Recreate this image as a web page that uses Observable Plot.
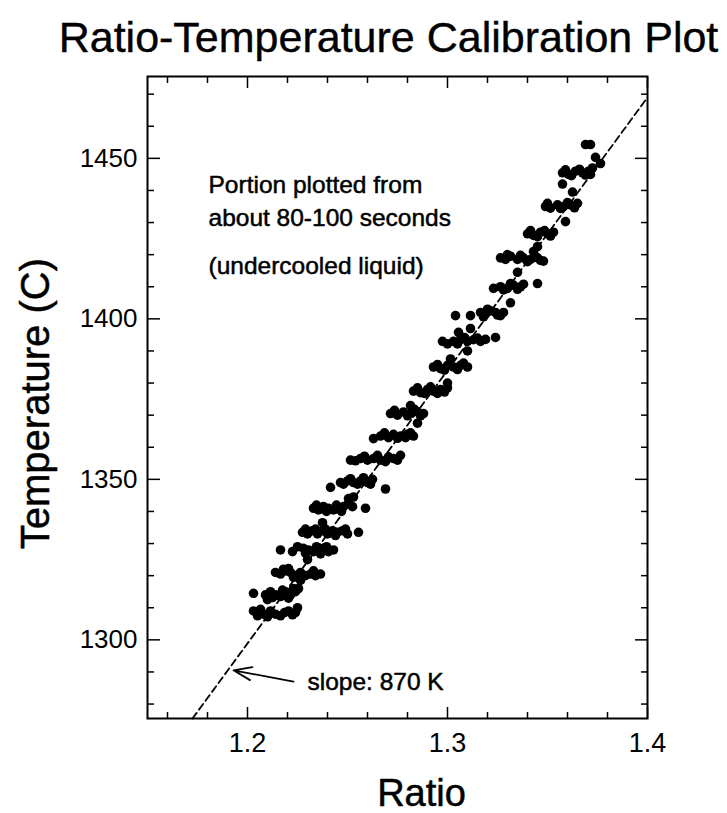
<!DOCTYPE html>
<html><head><meta charset="utf-8">
<script src="https://cdn.jsdelivr.net/npm/d3@7"></script>
<script src="https://cdn.jsdelivr.net/npm/@observablehq/plot@0.6"></script>
<style>
html,body{margin:0;padding:0;background:#fff;}
body{width:727px;height:813px;overflow:hidden;font-family:"Liberation Sans",Arial,Helvetica,sans-serif;}
#title{box-sizing:border-box;height:60px;padding:16px 0 0 50px;width:727px;text-align:center;font-size:43px;line-height:43px;color:#000;white-space:nowrap;-webkit-text-stroke:0.4px #000;}
</style></head><body>
<div id="title">Ratio-Temperature Calibration Plot</div>
<div id="chart"></div>
<script>
// Measured points (ratio, temperature °C)
const ratio = [
  1.2030,1.2050,1.2080,1.2115,1.2140,1.2165,1.2205,1.2240,1.2250,1.2030,1.2065,1.2185,1.2225,1.2100,
  1.2090,1.2115,1.2140,1.2165,1.2190,1.2215,1.2240,1.2255,1.2100,1.2125,1.2175,1.2205,1.2230,
  1.2140,1.2165,1.2190,1.2215,1.2240,1.2265,1.2315,1.2340,1.2365,1.2265,1.2180,1.2230,1.2290,1.2330,1.2205,
  1.2165,1.2225,1.2280,1.2305,1.2330,1.2355,1.2380,1.2405,1.2430,1.2300,1.2250,1.2290,1.2345,1.2395,1.2365,
  1.2275,1.2300,1.2325,1.2350,1.2375,1.2400,1.2425,1.2450,1.2475,1.2500,1.2555,1.2375,1.2290,1.2340,1.2390,1.2440,1.2490,
  1.2330,1.2355,1.2380,1.2405,1.2430,1.2455,1.2480,1.2505,1.2590,1.2505,1.2345,1.2395,1.2445,1.2470,1.2525,
  1.2415,1.2465,1.2500,1.2530,1.2565,1.2600,1.2625,1.2690,1.2530,1.2480,1.2515,1.2550,1.2580,1.2615,
  1.2515,1.2565,1.2600,1.2630,1.2665,1.2705,1.2730,1.2765,1.2585,1.2650,1.2690,1.2750,1.2540,
  1.2630,1.2665,1.2705,1.2730,1.2765,1.2800,1.2830,1.2685,1.2750,1.2790,1.2815,
  1.2715,1.2750,1.2780,1.2815,1.2850,1.2880,1.2815,1.2850,1.2735,1.2800,1.2835,1.2865,
  1.2830,1.2865,1.2900,1.2930,1.2965,1.3000,1.3000,1.2850,1.2885,1.2915,1.2950,1.2985,
  1.2930,1.2965,1.3000,1.3030,1.3065,1.3100,1.3015,1.3100,1.2950,1.2985,1.3050,1.3080,
  1.2975,1.3030,1.3065,1.3100,1.3130,1.3165,1.3240,1.3055,1.3115,1.3040,1.3115,1.3000,1.3050,1.3085,1.3150,1.3190,
  1.3165,1.3190,1.3215,1.3240,1.3265,1.3280,1.3315,1.3230,1.3200,1.3250,1.3180,
  1.3265,1.3300,1.3330,1.3365,1.3450,1.3280,1.3315,1.3350,1.3380,
  1.3265,1.3290,1.3315,1.3350,1.3380,1.3415,1.3450,1.3480,1.3350,1.3430,1.3450,1.3300,1.3365,1.3400,1.3435,1.3465,
  1.3400,1.3430,1.3465,1.3500,1.3530,1.3590,1.3415,1.3450,1.3485,1.3515,
  1.3490,1.3515,1.3550,1.3580,1.3615,1.3650,1.3625,1.3500,1.3565,1.3600,1.3635,
  1.3575,1.3605,1.3640,1.3675,1.3705,1.3725,1.3575,1.3765,1.3740,1.3590,1.3620,1.3660,1.3690,1.3715,
  1.3690,1.3715
];
const temperature = [
  1309.0,1307.5,1308.0,1309.0,1308.0,1307.5,1309.0,1308.5,1310.0,1314.5,1309.5,1308.5,1307.8,1307.2,
  1314.0,1315.0,1314.0,1313.5,1315.0,1314.0,1315.0,1316.0,1312.5,1313.2,1315.5,1313.0,1316.0,
  1321.0,1320.5,1321.5,1321.0,1320.0,1321.0,1320.5,1320.0,1320.5,1318.5,1322.0,1319.5,1320.0,1321.5,1322.2,
  1328.0,1327.5,1328.5,1328.0,1327.5,1328.0,1328.5,1327.5,1328.0,1325.0,1329.0,1327.0,1329.0,1329.0,1326.8,
  1333.5,1333.0,1334.0,1333.0,1334.0,1333.0,1334.0,1333.5,1334.0,1333.0,1333.5,1336.5,1334.5,1334.5,1334.5,1332.5,1334.5,
  1341.0,1340.5,1341.5,1341.0,1340.5,1341.0,1341.5,1342.5,1341.0,1344.0,1342.0,1340.0,1342.0,1340.0,1341.5,
  1347.5,1349.0,1349.5,1349.0,1349.5,1349.0,1350.0,1347.0,1344.5,1348.5,1350.2,1348.5,1350.5,1348.5,
  1356.0,1356.5,1356.0,1356.5,1356.0,1357.0,1356.5,1357.5,1357.2,1357.5,1355.5,1356.0,1355.8,
  1362.7,1363.5,1363.0,1364.0,1363.5,1364.0,1363.5,1364.5,1362.8,1363.0,1364.5,
  1370.5,1370.0,1371.0,1370.5,1371.0,1370.5,1373.0,1367.5,1371.5,1369.8,1371.8,1369.8,
  1377.5,1377.0,1378.0,1377.5,1378.0,1378.5,1380.0,1378.5,1376.8,1378.8,1376.8,1377.2,
  1385.0,1384.5,1385.5,1385.0,1385.5,1385.0,1387.5,1390.0,1385.8,1384.0,1384.2,1386.2,
  1393.0,1393.0,1393.5,1393.0,1393.5,1393.0,1394.2,1395.8,1397.0,1401.0,1401.0,1392.2,1392.2,1394.2,1394.0,1393.6,
  1402.0,1401.5,1402.5,1402.0,1401.0,1402.0,1405.0,1409.5,1403.0,1401.2,1400.6,
  1410.0,1409.5,1410.5,1410.0,1411.0,1409.0,1411.0,1409.2,1410.8,
  1419.0,1418.5,1419.5,1418.5,1419.0,1418.5,1419.0,1418.0,1414.5,1421.0,1422.5,1420.0,1419.8,1417.8,1419.8,1418.2,
  1426.5,1426.0,1427.0,1426.5,1427.0,1430.3,1427.5,1425.6,1427.5,1425.8,
  1435.0,1434.5,1435.5,1435.0,1435.5,1436.0,1439.5,1436.0,1434.4,1436.2,1434.6,
  1445.5,1445.0,1446.0,1445.5,1446.0,1447.0,1442.0,1448.4,1450.3,1446.4,1444.6,1446.6,1444.8,1445.0,
  1454.3,1454.3
];

// Fitted calibration line (dashed)
const fitRatio = [1.1725, 1.4];
const fitTemp = [1275.5, 1469.0];

// Axis ticks
const xMajorTicks = [1.2, 1.3, 1.4];
const xMinorTicks = [1.16, 1.18, 1.22, 1.24, 1.26, 1.28, 1.32, 1.34, 1.36, 1.38];
const yMajorTicks = [1300, 1350, 1400, 1450];
const yMinorTicks = [1280, 1290, 1310, 1320, 1330, 1340, 1360, 1370, 1380, 1390, 1410, 1420, 1430, 1440, 1460, 1470];

// Annotations
const noteLines = ["Portion plotted from", "about 80-100 seconds", "(undercooled liquid)"];
const noteRatio = [1.1805, 1.1805, 1.1805];
const noteTemp = [1441.5, 1431.3, 1416.3];
const slopeLabel = "slope: 870 K";
const slopeLabelPos = [1.2300, 1286.7];
const arrowFrom = [1.2230, 1287.0];
const arrowTo = [1.1930, 1290.5];

const points = ratio.map((r, i) => ({ratio: r, temperature: temperature[i]}));
const fit = fitRatio.map((r, i) => ({ratio: r, temperature: fitTemp[i]}));
const notes = noteLines.map((t, i) => ({text: t, ratio: noteRatio[i], temperature: noteTemp[i]}));

const font = "Liberation Sans, Arial, Helvetica, sans-serif";

const chart = Plot.plot({
  width: 727,
  height: 753,
  marginTop: 16,
  marginBottom: 95,
  marginLeft: 147,
  marginRight: 80,
  style: {fontFamily: font, background: "#fff", color: "#000"},
  x: {domain: [1.15, 1.4]},
  y: {domain: [1275.5, 1475.5]},
  marks: [
    // tick labels
    Plot.axisX({anchor: "bottom", ticks: xMajorTicks, tickSize: 0, tickPadding: 14, tickFormat: d3.format(".1f"), fontSize: 27, label: null, stroke: "#000", strokeWidth: 0.5}),
    Plot.axisY({anchor: "left", ticks: yMajorTicks, tickSize: 0, tickPadding: 10, tickFormat: d => String(d), fontSize: 26, label: null, stroke: "#000", strokeWidth: 0.5}),
    // inward tick marks
    Plot.axisX({anchor: "bottom", ticks: xMajorTicks, tickSize: -11, fill: "none", label: null, strokeWidth: 1.5}),
    Plot.axisX({anchor: "bottom", ticks: xMinorTicks, tickSize: -6, fill: "none", label: null, strokeWidth: 1.5}),
    Plot.axisX({anchor: "top", ticks: xMajorTicks, tickSize: -11, fill: "none", label: null, strokeWidth: 1.5}),
    Plot.axisX({anchor: "top", ticks: xMinorTicks, tickSize: -6, fill: "none", label: null, strokeWidth: 1.5}),
    Plot.axisY({anchor: "left", ticks: yMajorTicks, tickSize: -13, fill: "none", label: null, strokeWidth: 1.5}),
    Plot.axisY({anchor: "left", ticks: yMinorTicks, tickSize: -7, fill: "none", label: null, strokeWidth: 1.5}),
    Plot.axisY({anchor: "right", ticks: yMajorTicks, tickSize: -13, fill: "none", label: null, strokeWidth: 1.5}),
    Plot.axisY({anchor: "right", ticks: yMinorTicks, tickSize: -7, fill: "none", label: null, strokeWidth: 1.5}),
    Plot.frame({stroke: "#000", strokeWidth: 2}),
    // fitted line
    Plot.line(fit, {x: "ratio", y: "temperature", stroke: "#000", strokeWidth: 1.8, strokeDasharray: "7,4"}),
    // data
    Plot.dot(points, {x: "ratio", y: "temperature", r: 4.8, fill: "#000", stroke: "none"}),
    // annotations
    Plot.text(notes, {x: "ratio", y: "temperature", text: "text", textAnchor: "start", lineAnchor: "middle", fontSize: 24.5, fill: "#000", stroke: "#000", strokeWidth: 0.5}),
    Plot.text([slopeLabel], {x: () => slopeLabelPos[0], y: () => slopeLabelPos[1], text: d => d, textAnchor: "start", lineAnchor: "middle", fontSize: 24.5, fill: "#000", stroke: "#000", strokeWidth: 0.5}),
    Plot.arrow([0], {x1: () => arrowFrom[0], y1: () => arrowFrom[1], x2: () => arrowTo[0], y2: () => arrowTo[1], stroke: "#000", strokeWidth: 1.8, headLength: 16, headAngle: 40}),
    // axis titles
    Plot.text(["Ratio"], {x: () => 1.287, frameAnchor: "bottom", dy: 87, textAnchor: "middle", lineAnchor: "bottom", text: d => d, fontSize: 38, fill: "#000", stroke: "#000", strokeWidth: 0.5}),
    Plot.text(["Temperature (C)"], {y: () => 1373.6, frameAnchor: "left", dx: -99, rotate: -90, textAnchor: "middle", lineAnchor: "bottom", text: d => d, fontSize: 40, fill: "#000", stroke: "#000", strokeWidth: 0.5})
  ]
});
document.getElementById("chart").appendChild(chart);
</script>
</body></html>
